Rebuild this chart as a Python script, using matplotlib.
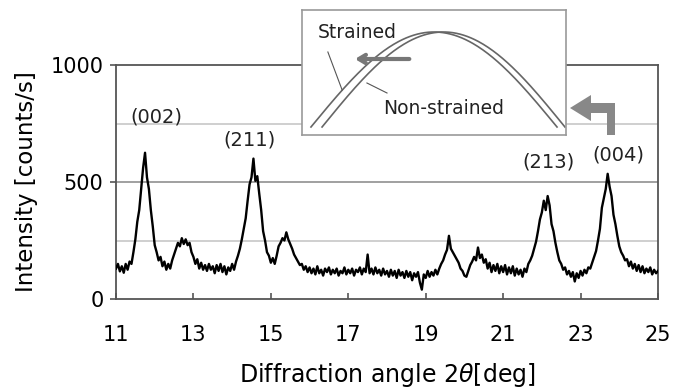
import numpy as np
import matplotlib
matplotlib.use("Agg")
import matplotlib.pyplot as plt
from matplotlib.patches import Polygon

plt.rcParams['font.family'] = ['DejaVu Sans']

# Diffraction angle range and intensity (step 0.05 deg)
angle_start, angle_end = 11.0, 25.0
intensity = [
    130, 150, 118, 140, 112, 150, 125, 160, 150, 200,
    255, 330, 380, 470, 560, 625, 520, 470, 380, 310,
    230, 200, 165, 180, 140, 160, 125, 150, 130, 165,
    190, 215, 240, 225, 260, 235, 255, 230, 240, 200,
    180, 150, 170, 130, 155, 125, 145, 120, 150, 125,
    140, 110, 145, 120, 150, 115, 140, 105, 135, 120,
    150, 125, 160, 185, 215, 255, 300, 345, 420, 490,
    520, 600, 505, 525, 450, 380, 290, 250, 200, 185,
    155, 175, 150, 185, 225, 240, 260, 250, 285, 255,
    235, 215, 190, 175, 160, 145, 150, 125, 140, 115,
    135, 110, 130, 105, 140, 110, 125, 100, 130, 115,
    135, 105, 125, 110, 130, 100, 120, 110, 135, 105,
    125, 110, 130, 100, 125, 115, 135, 105, 130, 115,
    190, 110, 130, 105, 135, 110, 125, 100, 130, 105,
    120, 95, 125, 100, 120, 90, 125, 100, 115, 90,
    120, 95, 115, 80, 110, 95, 115, 70, 40, 105,
    90, 120, 95, 115, 100, 125, 105, 130, 150, 165,
    190, 210, 270, 215, 200, 185, 170, 155, 130, 120,
    100, 95, 120, 145, 160, 180, 165, 220, 175, 190,
    155, 170, 130, 155, 115, 145, 120, 150, 110, 140,
    115, 145, 105, 135, 110, 140, 100, 130, 105, 125,
    95, 130, 115, 150, 165, 185, 215, 245, 290, 340,
    370, 420, 380, 440, 400, 320, 290, 240, 200, 165,
    150, 125, 135, 105, 120, 95, 115, 75, 110, 90,
    120, 100, 125, 110, 135, 130, 155, 180, 205, 250,
    300, 390, 430, 470, 535, 480, 440, 360, 320, 270,
    225, 200, 185, 165, 170, 140, 160, 130, 150, 120,
    145, 115, 140, 110, 130, 115, 135, 105, 125, 110,
    120,
]
angles = np.linspace(angle_start, angle_end, len(intensity))

peak_labels = ["(002)", "(211)", "(213)", "(004)"]
peak_label_x = [12.03, 14.46, 22.17, 23.98]
peak_label_y = [779, 680, 587, 615]

x_ticks = [11, 13, 15, 17, 19, 21, 23, 25]
y_major = [0, 500, 1000]
y_minor = [250, 750]

W, H = 675, 391
fig = plt.figure(figsize=(W / 100, H / 100), dpi=100)
ax = fig.add_axes([116 / W, 1 - 299 / H, 542 / W, 234 / H])

ax.set_xlim(angle_start, angle_end)
ax.set_ylim(0, 1000)
for yv in y_minor:
    ax.axhline(yv, color='#cccccc', lw=1.3, zorder=1)
ax.axhline(500, color='#999999', lw=1.3, zorder=1)

ax.plot(angles, intensity, color='black', lw=1.7, zorder=3)

ax.set_xticks(x_ticks)
ax.set_xticklabels([str(t) for t in x_ticks])
ax.set_yticks(y_major)
ax.set_yticklabels([str(t) for t in y_major])
ax.tick_params(axis='x', direction='in', length=4, width=1.2, color='#555555',
               labelsize=15, pad=19)
ax.tick_params(axis='y', direction='out', length=4, width=1.2, color='#555555',
               labelsize=15, pad=5)
for s in ax.spines.values():
    s.set_color('#555555')
    s.set_linewidth(1.3)

ax.set_xlabel(r'Diffraction angle 2$\theta$[deg]', fontsize=17, labelpad=11)
ax.set_ylabel('Intensity [counts/s]', fontsize=16.5, labelpad=9)

for lab, lx, ly in zip(peak_labels, peak_label_x, peak_label_y):
    ax.text(lx, ly, lab, fontsize=14, ha='center', va='center', color='#222222')

# Inset
ins = fig.add_axes([302 / W, 1 - 135 / H, 264 / W, 125 / H])
ins.set_xlim(0, 1)
ins.set_ylim(0, 1)
ins.set_xticks([])
ins.set_yticks([])
ins.set_facecolor('white')
for s in ins.spines.values():
    s.set_color('#999999')
    s.set_linewidth(1.2)

t = np.linspace(-1, 1, 200)
base, height = 0.064, 0.76
c_s, w_s = 0.50, 0.466
c_n, w_n = 0.536, 0.46
ins.plot(c_s + w_s * t, base + height * np.cos(np.pi * t / 2), color='#666666', lw=1.2)
ins.plot(c_n + w_n * t, base + height * np.cos(np.pi * t / 2), color='#666666', lw=1.2)

ins.text(0.061, 0.824, 'Strained', fontsize=13.5, ha='left', va='center', color='#222222')
ins.text(0.307, 0.216, 'Non-strained', fontsize=13.5, ha='left', va='center', color='#222222')
ins.plot([0.098, 0.152], [0.664, 0.36], color='#555555', lw=0.8)
ins.plot([0.246, 0.322], [0.416, 0.336], color='#555555', lw=0.8)

ins.annotate('', xy=(0.19, 0.608), xytext=(0.417, 0.608),
             arrowprops=dict(arrowstyle='->,head_length=0.5,head_width=0.3',
                             color='#777777', lw=3))

# Bent arrow (figure pixels)
pts = [(570, 108), (591, 95), (591, 103), (615, 103), (615, 135),
       (607, 135), (607, 113), (591, 113), (591, 121)]
poly = Polygon([(px / W, 1 - py / H) for px, py in pts], closed=True,
               transform=fig.transFigure, facecolor='#888888', edgecolor='none')
fig.patches.append(poly)

fig.savefig('out.png', dpi=100)
